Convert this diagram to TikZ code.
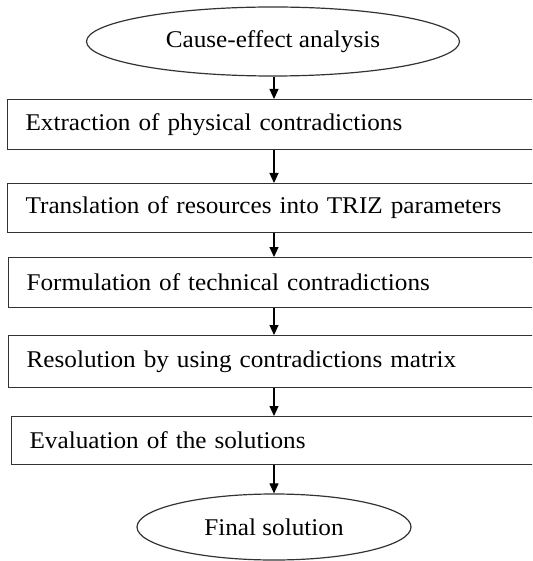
\documentclass[tikz,border=0pt]{standalone}
\usepackage{fontspec}
\setmainfont{Liberation Serif}[FakeStretch=1.05]
\usetikzlibrary{shapes.geometric,arrows.meta}
\begin{document}
\begin{tikzpicture}[x=1pt,y=-1pt,
  every node/.style={font=\fontsize{24}{28}\selectfont},
  stepbox/.style={draw=black!80, line width=1.2pt, anchor=north west,
    minimum height=50pt, text width=540pt, inner xsep=18pt, inner ysep=0pt, align=left},
  term/.style={draw=black!80, line width=1.2pt, ellipse, inner sep=0pt},
  flow/.style={draw=black, line width=1.1pt, -{Triangle[length=10pt,width=9pt]}}]
\useasboundingbox (0,0) rectangle (532,561);
\clip (0,0) rectangle (532,561);
\node[term, minimum width=373pt, minimum height=69pt] (e1) at (273,41.5) {Cause-effect analysis};
\node[stepbox] (b1) at (7,99) {Extraction of physical contradictions};
\node[stepbox, minimum height=49pt] (b2) at (7,183) {Translation of resources into TRIZ parameters};
\node[stepbox] (b3) at (8,257) {Formulation of technical contradictions};
\node[stepbox, minimum height=52pt] (b4) at (8,335) {Resolution by using contradictions matrix};
\node[stepbox, minimum height=48pt] (b5) at (11,416) {Evaluation of the solutions};
\node[term, minimum width=274pt, minimum height=66pt] (e2) at (274,527) {Final solution};
\coordinate (ax) at (274,0);
\draw[flow] (e1.south -| ax) -- (b1.north -| ax);
\draw[flow] (b1.south -| ax) -- (b2.north -| ax);
\draw[flow] (b2.south -| ax) -- (b3.north -| ax);
\draw[flow] (b3.south -| ax) -- (b4.north -| ax);
\draw[flow] (b4.south -| ax) -- (b5.north -| ax);
\draw[flow] (b5.south -| ax) -- (e2.north);
\end{tikzpicture}
\end{document}
